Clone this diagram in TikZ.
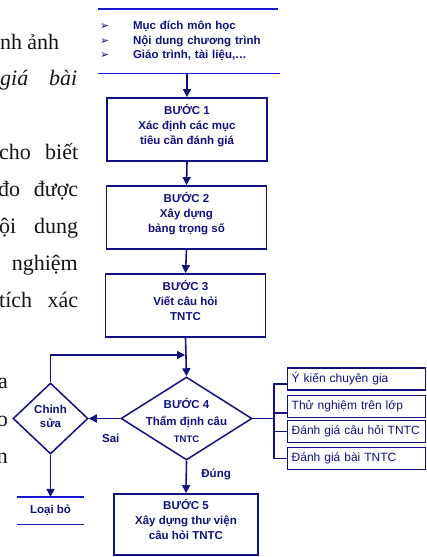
\documentclass[tikz,border=0pt]{standalone}
\usepackage{fontspec}
\setmainfont{Liberation Serif}
\newfontfamily\arialfont{Liberation Sans}
\newfontfamily\dejavufont{DejaVu Sans}
\usepackage{tikz}
\usetikzlibrary{shapes.geometric, arrows.meta, positioning, calc}
\definecolor{mynavy}{RGB}{16,16,128}
\definecolor{myblue}{RGB}{24,24,210}
\definecolor{mytext}{RGB}{20,20,20}
\newcommand{\listbullet}{\makebox[33pt][l]{\dejavufont\fontsize{11}{11}\selectfont ➢}}
\newcommand{\paraline}[2]{\makebox[#1pt][s]{#2}}
\tikzset{
  stepbox/.style={rectangle, draw=mynavy, text=mynavy,
    minimum width=160pt, minimum height=63pt, align=center, text depth=10pt,
    font=\arialfont\bfseries\fontsize{11.5}{15}\selectfont, inner sep=2pt, line width=1.8pt},
  decision/.style={diamond, draw=mynavy, inner sep=0pt, line width=1.5pt},
  checkbox/.style={rectangle, draw=mynavy, text=mynavy, anchor=west,
    minimum width=138pt, minimum height=22pt, text width=130pt, align=left,
    font=\arialfont\fontsize{12}{14}\selectfont, inner sep=3pt, line width=1.4pt},
  listbox/.style={text=mynavy, text width=178pt, align=left, minimum height=64pt,
    font=\arialfont\bfseries\fontsize{11.5}{14.5}\selectfont, inner sep=0pt},
  lbl/.style={text=mynavy, font=\arialfont\bfseries\fontsize{11.5}{17}\selectfont},
  para/.style={text=mytext, anchor=base west, inner sep=0pt, font=\fontsize{22}{26}\selectfont},
  arrow/.style={-{Triangle[length=8pt,width=8pt]}, line width=1.6pt, color=mynavy},
  line/.style={line width=1.6pt, color=mynavy},
  rule/.style={line width=1.4pt, color=myblue}
}
\begin{document}
\begin{tikzpicture}[x=1pt, y=-1pt]
  \useasboundingbox (0,0) rectangle (426,557);

  % Page text cut at the left edge
  \node[para] (p1) at (0,49) {\paraline{59}{nh ảnh}};
  \node[para] (p2) at (0,85) {\itshape\paraline{77}{giá bài}};
  \node[para] (p3) at (-1,159) {\paraline{79}{cho biết}};
  \node[para] (p4) at (-2,196) {\paraline{80}{đo được}};
  \node[para] (p5) at (-1,233) {\paraline{79}{ội dung}};
  \node[para, anchor=base east] (p6) at (78,270) {nghiệm};
  \node[para] (p7) at (-1,307) {\paraline{79}{tích xác}};
  \node[para, anchor=base east] (p8) at (8,388) {a};
  \node[para, anchor=base east] (p9) at (8,426) {o};
  \node[para, anchor=base east] (p10) at (8,463) {n};

  % Inputs
  \node[listbox] (src) at (189,41) {\listbullet Mục đích môn học\\\listbullet Nội dung chương trình\\\listbullet Giáo trình, tài liệu,…};
  \draw[rule] ([xshift=-2pt]src.north west) -- (src.north east);
  \draw[rule] ([xshift=-2pt]src.south west) -- ([xshift=2pt]src.south east);

  % Steps
  \node[stepbox] (s1) at (187,129.5) {BƯỚC 1\\Xác định các mục\\tiêu cần đánh giá};
  \node[stepbox] (s2) at (186.5,217.5) {BƯỚC 2\\Xây dựng\\bảng trọng số};
  \node[stepbox] (s3) at (185.5,305.5) {BƯỚC 3\\Viết câu hỏi\\TNTC};
  \node[decision, minimum width=131pt, minimum height=83pt,
    label={[lbl, align=center, yshift=-2pt]center:BƯỚC 4\\Thẩm định câu\\{\fontsize{9.5}{12}\selectfont TNTC}}] (s4) at (186.5,418.5) {};
  \node[stepbox, minimum width=144pt, minimum height=61pt] (s5) at (186,524.5) {BƯỚC 5\\Xây dựng thư viện\\câu hỏi TNTC};

  % Revision loop
  \node[decision, minimum width=75pt, minimum height=71pt,
    label={[lbl, align=center, yshift=2pt, font=\arialfont\bfseries\fontsize{11.5}{14}\selectfont]center:Chỉnh\\sửa}] (edit) at (50.5,418.5) {};
  \node[lbl, minimum width=67pt, minimum height=27pt, inner sep=0pt] (drop) at (50.5,510.5) {Loại bỏ};
  \draw[rule] (drop.north west) -- (drop.north east);
  \draw[rule] (drop.south west) -- (drop.south east);
  \coordinate (join) at (185,355);

  % Checks
  \node[checkbox] (c1) at (287,379) {Ý kiến chuyên gia};
  \node[checkbox] (c2) at (287,406.5) {Thử nghiệm trên lớp};
  \node[checkbox] (c3) at (287,431.5) {Đánh giá câu hỏi TNTC};
  \node[checkbox] (c4) at (287,458.5) {Đánh giá bài TNTC};

  % Connectors
  \draw[arrow] (src.south -| s1.north) -- (s1.north);
  \draw[arrow] (s1.south) -- (s2.north);
  \draw[arrow] (s2.south) -- (s3.north);
  \draw[arrow] (s3.south) -- (s4.north);
  \draw[arrow] (s4.west) -- node[lbl, pos=0.3, below=12pt] {Sai} (edit.east);
  \draw[arrow] (edit.north) |- (join);
  \draw[arrow] (edit.south) -- (drop.north);
  \draw[arrow] (s4.south) -- node[lbl, pos=0.41, right=11pt] {Đúng} (s5.north);
  \draw[line] (s4.east) -- ++(21,0) coordinate (bus);
  \foreach \n/\dy in {c1/-5, c2/-6.5, c3/0, c4/0}
    \draw[line] (bus) |- ([yshift=\dy pt]\n.west);
\end{tikzpicture}
\end{document}
